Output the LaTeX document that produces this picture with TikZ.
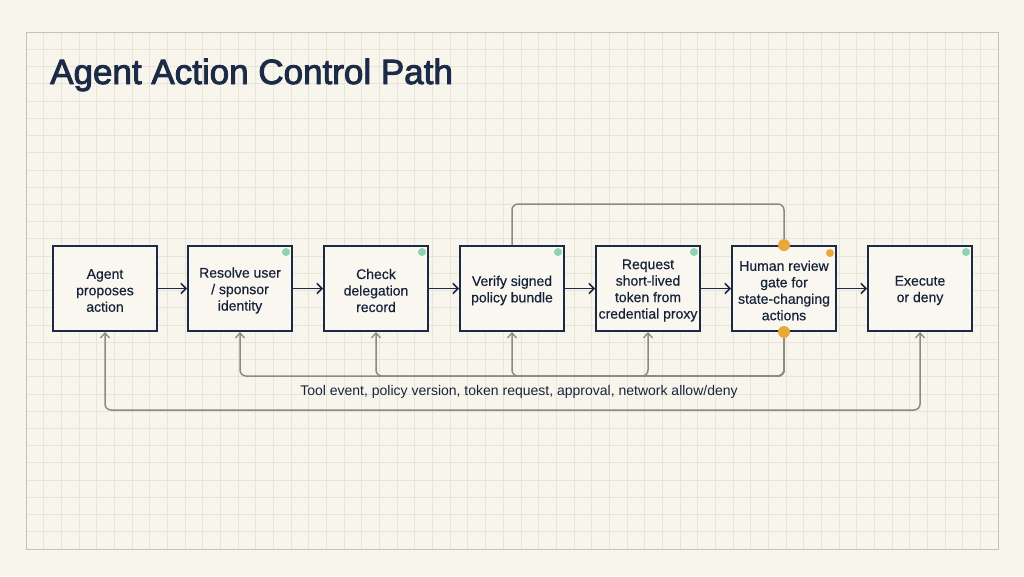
\documentclass[tikz,border=0pt]{standalone}
\usepackage{fontspec}
\setmainfont{Liberation Sans}
\newfontfamily\titlefont[FakeBold=2.6]{Liberation Sans}
\newfontfamily\boxfont[FakeBold=0.4]{Liberation Sans}
\usetikzlibrary{arrows.meta}
\definecolor{bgc}{HTML}{F8F5EC}
\definecolor{gridc}{HTML}{E8E4D8}
\definecolor{navy}{HTML}{1B2A47}
\definecolor{grayl}{HTML}{8C8A84}
\definecolor{boxfill}{HTML}{F9F7EF}
\definecolor{greend}{HTML}{8ED3B1}
\definecolor{oranged}{HTML}{E9A93A}
\tikzset{
  stepbox/.style={draw=navy, line width=1.9pt, fill=boxfill, minimum width=104pt, minimum height=85pt, inner sep=0pt},
  steptext/.style={align=center, text=navy!80!black, inner sep=0pt, font=\boxfont\fontsize{14}{16.5}\selectfont},
  flow/.style={draw=navy, line width=1.9pt, -{Straight Barb[length=5pt,width=10pt,line width=1.6pt]}},
  fb/.style={draw=grayl, line width=1.5pt, rounded corners=6pt},
  fbarrow/.style={fb, -{Straight Barb[length=5pt,width=9pt,line width=1.3pt]}},
  gdot/.style={circle, fill=greend, inner sep=0pt, minimum size=8pt},
  odot/.style={circle, fill=oranged, inner sep=0pt, minimum size=8pt},
  bigodot/.style={circle, fill=oranged, inner sep=0pt, minimum size=12pt},
  gridline/.style={draw=gridc, line width=0.7pt}
}
\begin{document}
\begin{tikzpicture}[x=1pt,y=-1pt]
\useasboundingbox (0,0) rectangle (1024,576);
\fill[bgc] (0,0) rectangle (1024,576);
\foreach \i in {0,...,55} \draw[gridline] ({26+\i*17.673},32) -- ({26+\i*17.673},549);
\foreach \j in {0,...,30} \draw[gridline] (26,{32+\j*17.233}) -- (998,{32+\j*17.233});
\draw[draw=gridc!85!black, line width=0.8pt] (26,32) rectangle (998,549);

\node[anchor=base west, text=navy, font=\titlefont\fontsize{35}{40}\selectfont, inner sep=0pt] (title) at (50,84) {Agent Action Control Path};

\node[stepbox] (b1) at (105,288.5) {};
\node[stepbox] (b2) at (240,288.5) {};
\node[stepbox] (b3) at (376,288.5) {};
\node[stepbox] (b4) at (512,288.5) {};
\node[stepbox] (b5) at (648,288.5) {};
\node[stepbox] (b6) at (784,288.5) {};
\node[stepbox] (b7) at (920,288.5) {};

\node[steptext] (b1t) at (105,290.5) {Agent\\proposes\\action};
\node[steptext] (b2t) at (240,290.5) {Resolve user\\/ sponsor\\identity};
\node[steptext] (b3t) at (376,290.5) {Check\\delegation\\record};
\node[steptext] (b4t) at (512,290.5) {Verify signed\\policy bundle};
\node[steptext] (b5t) at (648,290.5) {Request\\short-lived\\token from\\credential proxy};
\node[steptext] (b6t) at (784,290.5) {Human review\\gate for\\state-changing\\actions};
\node[steptext] (b7t) at (920,290.5) {Execute\\or deny};

\foreach \b in {b2,b3,b4,b5,b7} \node[gdot] (\b d) at ([xshift=-7pt,yshift=-7pt]\b.north east) {};
\node[odot] (b6d) at ([xshift=-7pt,yshift=-8pt]b6.north east) {};

\draw[flow] (b1) -- (b2);
\draw[flow] (b2) -- (b3);
\draw[flow] (b3) -- (b4);
\draw[flow] (b4) -- (b5);
\draw[flow] (b5) -- (b6);
\draw[flow] (b6) -- (b7);

\coordinate (topy) at (648,204);
\coordinate (iny) at (560,376);
\coordinate (outy) at (512,410);

\draw[fb] (b4.north) |- (topy) -| (b6.north);
\draw[fbarrow] (b6.south) |- (iny) -| (b2.south);
\draw[fbarrow] (b6.south) |- (iny) -| (b3.south);
\draw[fbarrow] (b6.south) |- (iny) -| (b4.south);
\draw[fbarrow] (b6.south) |- (iny) -| (b5.south);
\draw[fb, {Straight Barb[length=5pt,width=9pt,line width=1.3pt]}-{Straight Barb[length=5pt,width=9pt,line width=1.3pt]}] (b1.south) |- (outy) -| (b7.south);

\node[bigodot] (o1) at (b6.north) {};
\node[bigodot] (o2) at (b6.south) {};

\node[text=navy!85!black, font=\fontsize{14}{16}\selectfont, inner sep=0pt] (lab) at (519,391.5) {Tool event, policy version, token request, approval, network allow/deny};
\end{tikzpicture}
\end{document}
